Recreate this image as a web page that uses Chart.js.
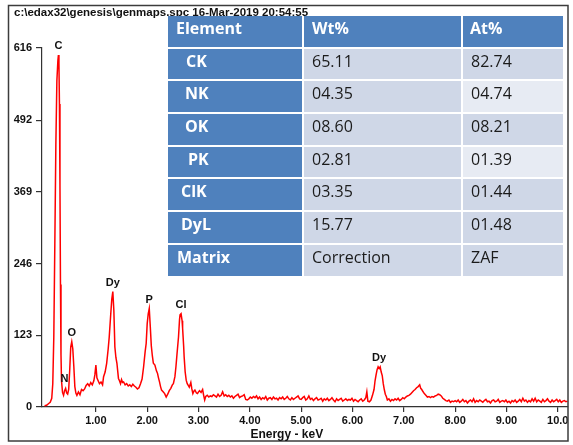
<!DOCTYPE html>
<html>
<head>
<meta charset="utf-8">
<title>EDS spectrum</title>
<script src="https://cdn.jsdelivr.net/npm/chart.js@4.4.1/dist/chart.umd.min.js"></script>
<style>
  html, body { margin: 0; padding: 0; background: #fff; }
  #wrap { position: relative; width: 573px; height: 445px; overflow: hidden; background: #fff; }
  #spectrum { position: absolute; left: 0; top: 0; }
  #results {
    position: absolute; left: 168px; top: 16px;
    display: grid;
    grid-template-columns: 134px 157px 100px;
    grid-auto-rows: 30.7px;
    column-gap: 2px; row-gap: 2px;
    font-family: "Open Sans", "Noto Sans", sans-serif;
    font-size: 16px;
  }
  #results div { box-sizing: border-box; padding-top: 1px; line-height: 22px; white-space: nowrap; }
  #results .head { background: #4F81BD; color: #fff; font-weight: 700; }
  #results .name { background: #4F81BD; color: #fff; font-weight: 700; }
  #results .band { background: #CFD7E7; color: #1b1b1b; padding-left: 8px; }
  #results .pale { background: #E7EBF3; color: #1b1b1b; padding-left: 8px; }
</style>
</head>
<body>
<div id="wrap">
  <canvas id="spectrum" width="573" height="445"></canvas>
  <div id="results"></div>
</div>
<script>
// ---- spectrum: energy (keV) and counts per reading ----
const energyKeV = [
  0.00, 0.04, 0.08, 0.11, 0.14, 0.16, 0.18, 0.20, 0.22, 0.24,
  0.26, 0.27, 0.28, 0.29, 0.30, 0.31, 0.32, 0.33, 0.35, 0.37,
  0.39, 0.41, 0.43, 0.45, 0.47, 0.49, 0.51, 0.53, 0.55, 0.57,
  0.59, 0.61, 0.63, 0.66, 0.69, 0.72, 0.75, 0.78, 0.81, 0.84,
  0.87, 0.90, 0.93, 0.96, 0.98, 1.00, 1.02, 1.04, 1.07, 1.10,
  1.13, 1.15, 1.18, 1.21, 1.24, 1.26, 1.29, 1.31, 1.33, 1.35,
  1.37, 1.39, 1.41, 1.44, 1.46, 1.48, 1.50, 1.52, 1.54, 1.57,
  1.60, 1.63, 1.66, 1.69, 1.72, 1.75, 1.78, 1.81, 1.84, 1.87,
  1.90, 1.93, 1.96, 1.98, 2.00, 2.02, 2.04, 2.06, 2.08, 2.10,
  2.12, 2.15, 2.18, 2.20, 2.22, 2.24, 2.26, 2.28, 2.31, 2.34,
  2.37, 2.40, 2.43, 2.46, 2.49, 2.51, 2.54, 2.56, 2.58, 2.61,
  2.63, 2.64, 2.66, 2.68, 2.69, 2.71, 2.72, 2.74, 2.76, 2.78,
  2.80, 2.82, 2.85, 2.87, 2.89, 2.91, 2.93, 2.96, 2.98, 3.00,
  3.02, 3.05, 3.08, 3.10, 3.12, 3.14, 3.17, 3.20, 3.23, 3.26,
  3.29, 3.32, 3.35, 3.38, 3.41, 3.44, 3.47, 3.50, 3.53, 3.56,
  3.59, 3.62, 3.65, 3.68, 3.71, 3.74, 3.77, 3.80, 3.83, 3.86,
  3.89, 3.92, 3.95, 3.98, 4.01, 4.04, 4.07, 4.10, 4.13, 4.16,
  4.19, 4.22, 4.25, 4.28, 4.31, 4.34, 4.37, 4.40, 4.43, 4.46,
  4.49, 4.52, 4.55, 4.58, 4.61, 4.64, 4.67, 4.70, 4.73, 4.76,
  4.79, 4.82, 4.85, 4.88, 4.91, 4.94, 4.97, 5.00, 5.03, 5.06,
  5.09, 5.12, 5.15, 5.18, 5.21, 5.24, 5.27, 5.30, 5.33, 5.36,
  5.39, 5.42, 5.45, 5.48, 5.51, 5.54, 5.57, 5.60, 5.63, 5.66,
  5.69, 5.72, 5.75, 5.78, 5.81, 5.84, 5.87, 5.90, 5.93, 5.96,
  5.99, 6.02, 6.05, 6.08, 6.11, 6.14, 6.17, 6.20, 6.23, 6.26,
  6.28, 6.30, 6.33, 6.36, 6.39, 6.42, 6.44, 6.46, 6.48, 6.50,
  6.52, 6.54, 6.56, 6.58, 6.60, 6.62, 6.64, 6.66, 6.68, 6.71,
  6.74, 6.77, 6.80, 6.83, 6.86, 6.89, 6.92, 6.95, 6.98, 7.01,
  7.04, 7.07, 7.10, 7.13, 7.16, 7.19, 7.22, 7.25, 7.28, 7.31,
  7.33, 7.35, 7.37, 7.40, 7.43, 7.46, 7.49, 7.52, 7.55, 7.58,
  7.61, 7.64, 7.67, 7.70, 7.73, 7.76, 7.79, 7.82, 7.85, 7.88,
  7.91, 7.94, 7.97, 8.00, 8.03, 8.06, 8.09, 8.12, 8.15, 8.18,
  8.21, 8.24, 8.27, 8.30, 8.33, 8.36, 8.39, 8.42, 8.45, 8.48,
  8.51, 8.54, 8.57, 8.60, 8.63, 8.66, 8.69, 8.72, 8.75, 8.78,
  8.81, 8.84, 8.87, 8.90, 8.93, 8.96, 8.99, 9.02, 9.05, 9.08,
  9.11, 9.14, 9.17, 9.20, 9.23, 9.26, 9.29, 9.32, 9.35, 9.38,
  9.41, 9.44, 9.47, 9.50, 9.53, 9.56, 9.59, 9.62, 9.65, 9.68,
  9.71, 9.74, 9.77, 9.80, 9.83, 9.86, 9.89, 9.92, 9.95, 9.98,
  10.01, 10.04, 10.07, 10.10, 10.13, 10.16, 10.19
];
const counts = [
  2, 3, 6, 8, 15, 40, 120, 280, 450, 560,
  595, 604, 590, 520, 380, 210, 90, 45, 25, 20,
  28, 32, 24, 22, 30, 63, 103, 112, 100, 70,
  35, 24, 20, 26, 21, 30, 28, 31, 37, 40,
  36, 42, 38, 45, 55, 72, 50, 46, 40, 43,
  38, 52, 60, 75, 100, 120, 160, 185, 198, 166,
  103, 85, 75, 49, 45, 40, 47, 42, 43, 38,
  40, 36, 38, 35, 39, 36, 34, 31, 33, 40,
  48, 69, 95, 109, 143, 160, 169, 138, 105, 88,
  75, 72, 62, 58, 50, 43, 35, 29, 26, 23,
  17, 22, 28, 32, 38, 40, 52, 69, 90, 120,
  150, 158, 160, 148, 135, 105, 86, 60, 46, 40,
  37, 34, 42, 31, 23, 27, 29, 24, 23, 26,
  28, 25, 30, 20, 12, 18, 20, 17, 19, 18,
  21, 19, 17, 22, 18, 20, 26, 19, 21, 18,
  20, 17, 19, 15, 18, 20, 22, 16, 18, 19,
  21, 13, 12, 14, 17, 15, 18, 16, 19, 14,
  17, 13, 16, 14, 18, 12, 15, 16, 13, 17,
  14, 15, 12, 16, 14, 17, 13, 15, 18, 14,
  12, 16, 13, 15, 17, 19, 14, 13, 16, 18,
  12, 14, 19, 13, 15, 11, 14, 16, 12, 13,
  15, 10, 14, 12, 15, 11, 13, 16, 12, 9,
  14, 11, 13, 15, 10, 12, 14, 11, 13, 12,
  15, 10, 13, 11, 9, 12, 14, 10, 12, 16,
  26, 10, 9, 12, 20, 30, 45, 55, 64, 69,
  66, 69, 60, 54, 40, 30, 22, 18, 12, 14,
  10, 13, 11, 14, 12, 15, 11, 13, 16, 14,
  17, 19, 20, 22, 25, 28, 30, 33, 35, 38,
  32, 30, 27, 23, 20, 17, 18, 16, 18, 17,
  19, 20, 22, 21, 19, 15, 13, 11, 10, 12,
  8, 10, 9, 11, 9, 12, 8, 10, 13, 9,
  11, 7, 10, 12, 9, 14, 8, 11, 9, 12,
  10, 8, 11, 13, 9, 10, 7, 11, 12, 9,
  10, 13, 8, 10, 11, 9, 12, 8, 10, 7,
  11, 9, 12, 8, 10, 13, 9, 15, 10, 12,
  8, 11, 9, 14, 10, 15, 9, 12, 10, 8,
  13, 9, 11, 14, 10, 8, 12, 9, 11, 13,
  9, 12, 8, 10, 11, 9, 10
];

// ---- axes ----
const yTickValues = [0, 123, 246, 369, 492, 616];
const xTickValues = [1, 2, 3, 4, 5, 6, 7, 8, 9, 10];
const xRangeKeV = [-0.05, 10.2];

// ---- peak identifications ----
const peakNames = ['C', 'N', 'O', 'Dy', 'P', 'Cl', 'Dy'];
const peakKeV   = [0.27, 0.39, 0.53, 1.33, 2.04, 2.66, 6.52];

// ---- quantification table ----
const tableHeader = ['Element', 'Wt%', 'At%'];
const elements    = ['CK', 'NK', 'OK', 'PK', 'ClK', 'DyL', 'Matrix'];
const weightPct   = ['65.11', '04.35', '08.60', '02.81', '03.35', '15.77', 'Correction'];
const atomicPct   = ['82.74', '04.74', '08.21', '01.39', '01.44', '01.48', 'ZAF'];

const fileStamp = 'c:\\edax32\\genesis\\genmaps.spc 16-Mar-2019 20:54:55';
const xAxisTitle = 'Energy - keV';

// ---------------------------------------------------------------
// table markup
const nameIndent = [8, 18, 17, 17, 20, 13, 13, 9];
const lighterAt = [false, true, false, true, false, false, false];
(function buildTable() {
  const box = document.getElementById('results');
  const add = (cls, text, pad) => {
    const d = document.createElement('div');
    d.className = cls;
    d.textContent = text;
    if (pad !== undefined) d.style.paddingLeft = pad + 'px';
    box.appendChild(d);
  };
  add('head', tableHeader[0], nameIndent[0]);
  add('head', tableHeader[1], 8);
  add('head', tableHeader[2], 7);
  elements.forEach((el, i) => {
    add('name', el, nameIndent[i + 1]);
    add('band', weightPct[i]);
    add(lighterAt[i] ? 'pale' : 'band', atomicPct[i]);
  });
})();

// ---------------------------------------------------------------
const labelFont = 'bold 11px "Liberation Sans", Arial, sans-serif';

const decorations = {
  id: 'decorations',
  afterDraw(chart) {
    const { ctx, scales: { x, y } } = chart;
    const pts = chart.data.datasets[0].data;
    ctx.save();

    // outer frame
    ctx.strokeStyle = '#3c3c3c';
    ctx.lineWidth = 1.5;
    ctx.strokeRect(8.5, 5.5, 559.5, 435.5);

    // file stamp
    ctx.fillStyle = '#111';
    ctx.font = 'bold 11.5px "Liberation Sans", Arial, sans-serif';
    ctx.textAlign = 'left';
    ctx.textBaseline = 'middle';
    ctx.fillText(fileStamp, 14, 13);

    // peak names above their maxima
    ctx.font = labelFont;
    ctx.textAlign = 'center';
    ctx.textBaseline = 'middle';
    peakNames.forEach((name, i) => {
      const e = peakKeV[i];
      let top = 0;
      pts.forEach(p => { if (Math.abs(p.x - e) <= 0.04 && p.y > top) top = p.y; });
      ctx.fillText(name, x.getPixelForValue(e), y.getPixelForValue(top) - 9);
    });

    // energy axis title
    ctx.font = 'bold 12px "Liberation Sans", Arial, sans-serif';
    ctx.fillText(xAxisTitle, x.getPixelForValue(4.72), 435);
    ctx.restore();
  }
};

new Chart(document.getElementById('spectrum'), {
  type: 'line',
  data: {
    datasets: [{
      data: energyKeV.map((e, i) => ({ x: e, y: counts[i] })),
      borderColor: '#ff0000',
      borderWidth: 1.5,
      pointRadius: 0,
      tension: 0,
      fill: false
    }]
  },
  options: {
    responsive: false,
    animation: false,
    devicePixelRatio: 1,
    layout: { padding: { top: 48, right: 5, left: 0, bottom: 0 } },
    plugins: { legend: { display: false }, tooltip: { enabled: false } },
    scales: {
      x: {
        type: 'linear',
        min: xRangeKeV[0],
        max: xRangeKeV[1],
        afterBuildTicks: s => { s.ticks = xTickValues.map(v => ({ value: v })); },
        afterFit: s => { s.height = 38; },
        border: { color: '#333', width: 1.2 },
        grid: { drawOnChartArea: false, tickLength: 5, color: '#333', lineWidth: 1.2 },
        ticks: {
          font: { family: '"Liberation Sans", Arial, sans-serif', weight: 'bold', size: 11 },
          color: '#111',
          padding: 2,
          maxRotation: 0,
          autoSkip: false,
          callback: v => (v < 10 ? v.toFixed(2) : v.toFixed(1))
        }
      },
      y: {
        min: 0,
        max: 616,
        afterBuildTicks: s => { s.ticks = yTickValues.map(v => ({ value: v })); },
        afterFit: s => { s.width = 42; },
        border: { color: '#333', width: 1.2 },
        grid: { drawOnChartArea: false, tickLength: 6, color: '#333', lineWidth: 1.2 },
        ticks: {
          font: { family: '"Liberation Sans", Arial, sans-serif', weight: 'bold', size: 11 },
          color: '#111',
          padding: 4,
          autoSkip: false,
          callback: v => String(v)
        }
      }
    }
  },
  plugins: [decorations]
});
</script>
</body>
</html>
